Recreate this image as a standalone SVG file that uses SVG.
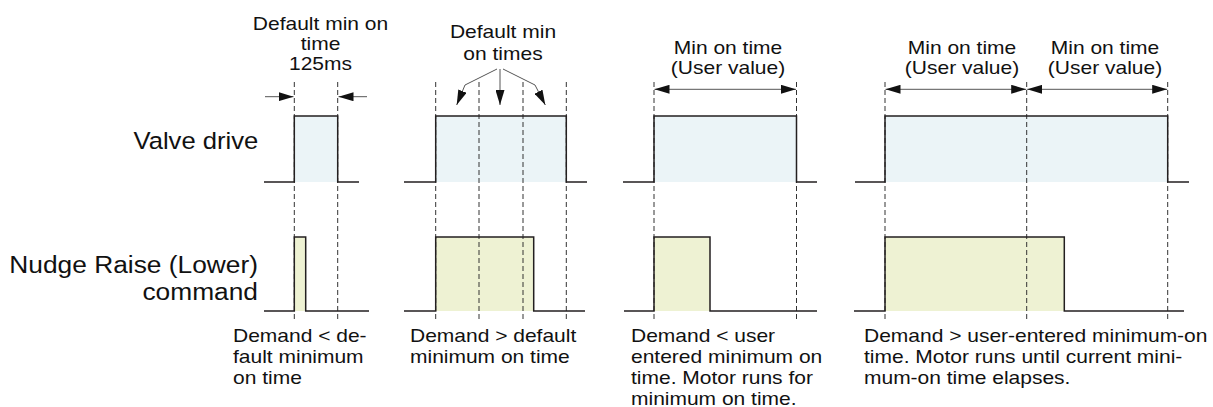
<svg xmlns="http://www.w3.org/2000/svg" width="1213" height="407" viewBox="0 0 1213 407">
<style>
text{font-family:"Liberation Sans",Arial,sans-serif;fill:#111}
.s{font-size:17.5px}
.b{font-size:23.3px}
.m{text-anchor:middle}
.e{text-anchor:end}
.fv{fill:#EBF4F7}
.fn{fill:#EEF2D3}
.sig{fill:none;stroke:#231f20;stroke-width:1.5}
.dash{stroke:#333;stroke-width:1;stroke-dasharray:5 3;fill:none}
.arr{stroke:#555;stroke-width:1;fill:none}
</style>
<defs>
<marker id="ah" markerUnits="userSpaceOnUse" markerWidth="16" markerHeight="9" refX="15" refY="4.5" orient="auto-start-reverse" viewBox="0 0 16 9">
<path d="M0,0 L15,4.5 L0,9 z" fill="#111"/>
</marker>
</defs>

<g id="labels">
<text class="b e" transform="translate(258.3 149.3) scale(1.1 1)">Valve drive</text>
<text class="b e" transform="translate(258 273.3) scale(1.13 1)"><tspan x="0" y="0">Nudge Raise (Lower)</tspan><tspan x="0" y="26.7">command</tspan></text>
</g>

<g id="panel1">
<rect class="fv" x="294.3" y="116" width="43.4" height="66"/>
<rect class="fn" x="294.3" y="237" width="11.4" height="74"/>
<path class="dash" d="M294.3,82V320M337.7,82V320"/>
<path class="sig" d="M264,182H294.3V116H337.7V182H359"/>
<path class="sig" d="M264,311H294.3V237H305.7V311H369"/>
<text class="s m" transform="translate(320.5 30) scale(1.2 1)"><tspan x="0" y="0">Default min on</tspan><tspan x="0" y="20">time</tspan><tspan x="0" y="40">125ms</tspan></text>
<text class="s" transform="translate(233 342) scale(1.2 1)"><tspan x="0" y="0">Demand &lt; de-</tspan><tspan x="0" y="21">fault minimum</tspan><tspan x="0" y="42">on time</tspan></text>
</g>

<g id="panel2">
<rect class="fv" x="435.7" y="116" width="130.6" height="66"/>
<rect class="fn" x="435.7" y="237" width="98" height="74"/>
<path class="dash" d="M435.7,82V320M479,82V320M523,82V320M566.3,82V320"/>
<path class="sig" d="M404,182H435.7V116H566.3V182H587"/>
<path class="sig" d="M404,311H435.7V237H533.7V311H585"/>
<text class="s m" transform="translate(503 38.3) scale(1.2 1)"><tspan x="0" y="0">Default min</tspan><tspan x="0" y="21.5">on times</tspan></text>
<text class="s" transform="translate(410 342) scale(1.2 1)"><tspan x="0" y="0">Demand &gt; default</tspan><tspan x="0" y="21">minimum on time</tspan></text>
</g>

<g id="panel3">
<rect class="fv" x="654" y="116" width="142.5" height="66"/>
<rect class="fn" x="654" y="237" width="56" height="74"/>
<path class="dash" d="M654,82V320M796.5,82V320"/>
<path class="sig" d="M623,182H654V116H796.5V182H817"/>
<path class="sig" d="M624,311H654V237H710V311H817"/>
<text class="s m" transform="translate(728 54.3) scale(1.2 1)"><tspan x="0" y="0">Min on time</tspan><tspan x="0" y="19.5">(User value)</tspan></text>
<text class="s" transform="translate(631 342) scale(1.2 1)"><tspan x="0" y="0">Demand &lt; user</tspan><tspan x="0" y="21">entered minimum on</tspan><tspan x="0" y="42">time. Motor runs for</tspan><tspan x="0" y="63">minimum on time.</tspan></text>
</g>

<g id="panel4">
<rect class="fv" x="885" y="116" width="282.7" height="66"/>
<rect class="fn" x="885" y="237" width="179.3" height="74"/>
<path class="dash" d="M885,82V320M1026.7,82V320M1167.7,82V320"/>
<path class="sig" d="M855,182H885V116H1167.7V182H1189"/>
<path class="sig" d="M854,311H885V237H1064.3V311H1184"/>
<text class="s m" transform="translate(962 54.3) scale(1.2 1)"><tspan x="0" y="0">Min on time</tspan><tspan x="0" y="19.5">(User value)</tspan></text>
<text class="s m" transform="translate(1105 54.3) scale(1.2 1)"><tspan x="0" y="0">Min on time</tspan><tspan x="0" y="19.5">(User value)</tspan></text>
<text class="s" transform="translate(864 342) scale(1.2 1)"><tspan x="0" y="0">Demand &gt; user-entered minimum-on</tspan><tspan x="0" y="21">time. Motor runs until current mini-</tspan><tspan x="0" y="42">mum-on time elapses.</tspan></text>
</g>

<g id="connectors">
<path class="arr" d="M265,96.7H293.5" marker-end="url(#ah)"/>
<path class="arr" d="M367,96.7H338.5" marker-end="url(#ah)"/>
<path class="arr" d="M497,69L465,85L456.7,105" marker-end="url(#ah)"/>
<path class="arr" d="M500,69V105" marker-end="url(#ah)"/>
<path class="arr" d="M503,69L535,85L545.3,105" marker-end="url(#ah)"/>
<path class="arr" d="M654.5,89.3H796" marker-start="url(#ah)" marker-end="url(#ah)"/>
<path class="arr" d="M885.5,89.3H1026.2" marker-start="url(#ah)" marker-end="url(#ah)"/>
<path class="arr" d="M1027.2,89.3H1167.2" marker-start="url(#ah)" marker-end="url(#ah)"/>
</g>
</svg>
